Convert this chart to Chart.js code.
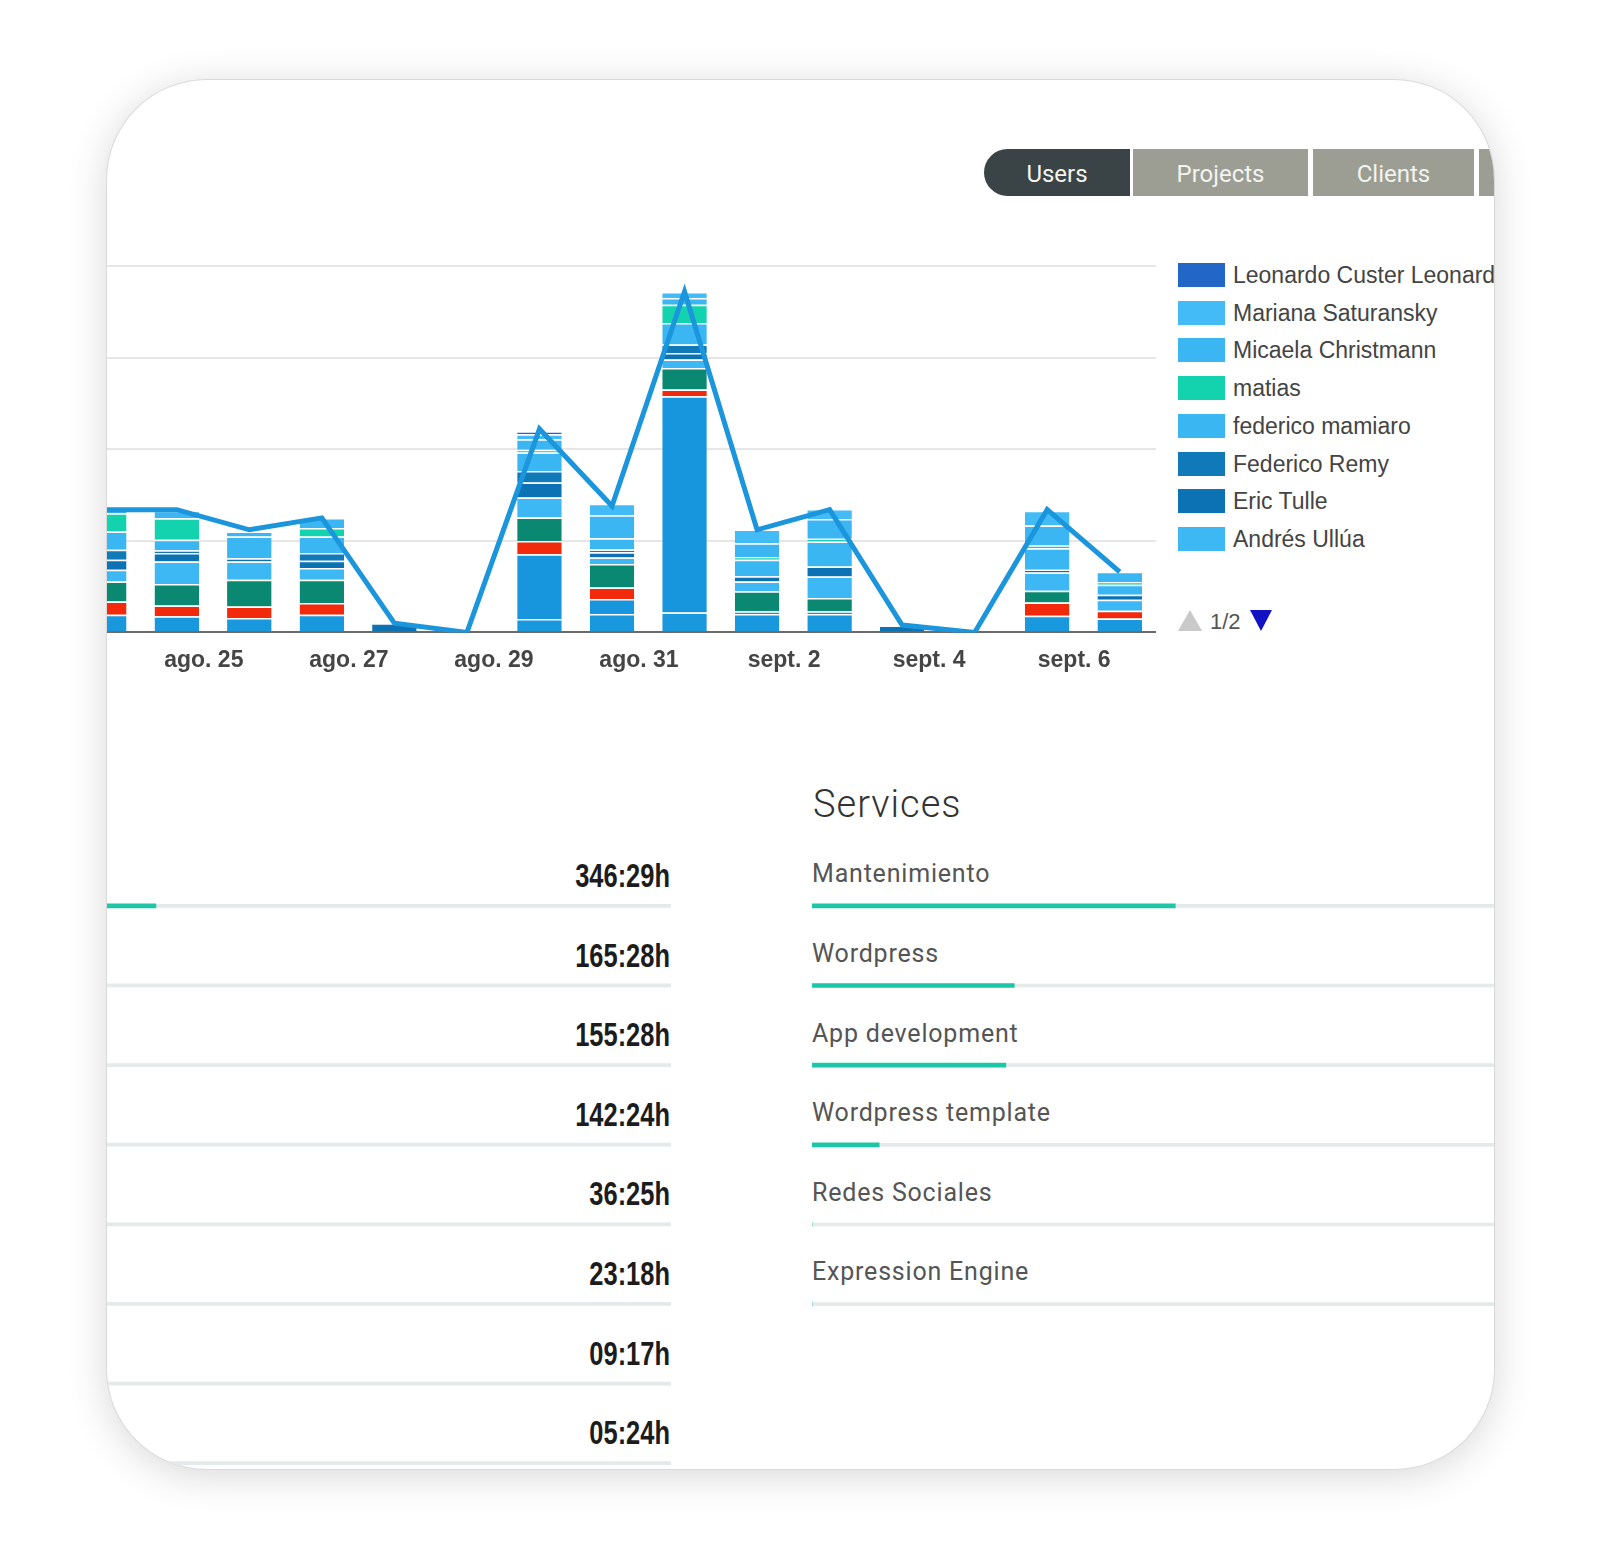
<!DOCTYPE html>
<html><head><meta charset="utf-8">
<script src="https://cdn.jsdelivr.net/npm/chart.js@4.4.1/dist/chart.umd.min.js"></script>
<style>
html,body{margin:0;padding:0;background:#fff;}
body{width:1600px;height:1549px;position:relative;overflow:hidden;font-family:"Liberation Sans",Arial,sans-serif;}
#card{position:absolute;left:107px;top:80px;width:1387px;height:1389px;border-radius:100px;overflow:hidden;background:#fff;box-shadow:0 0 0 1px #dadada,0 6px 40px rgba(0,0,0,.16);}
.tab{position:absolute;top:69px;height:47px;line-height:51px;text-align:center;font-family:Roboto,sans-serif;font-size:24px;color:#f3f3ef;background:#9c9e93;}
canvas{position:absolute;}
.lg{position:absolute;left:1071px;height:24px;white-space:nowrap;}
.lg .bx{position:absolute;left:0;top:0;width:47px;height:24px;}
.lg .tx{position:absolute;left:55px;top:0;line-height:24px;font-size:23px;color:#444;}
.val{position:absolute;left:0;width:563px;text-align:right;font-family:"Liberation Sans",Arial,sans-serif;font-weight:bold;font-size:33.5px;line-height:33.5px;color:#1c1c1c;transform:scaleX(0.76);transform-origin:100% 50%;}
.svc{position:absolute;left:705px;font-family:Roboto,sans-serif;font-size:25px;line-height:25px;letter-spacing:0.8px;color:#555;white-space:nowrap;}
</style></head>
<body>
<div id="card">
  <div class="tab" style="left:877px;width:146px;background:#3a4447;border-radius:23.5px 0 0 23.5px;">Users</div>
  <div class="tab" style="left:1026px;width:175px;">Projects</div>
  <div class="tab" style="left:1206px;width:161px;">Clients</div>
  <div class="tab" style="left:1372px;width:150px;"></div>

  <canvas id="main" width="1088" height="422" style="left:-39px;top:178px;"></canvas>
  <div id="legend"></div>
  <div style="position:absolute;left:1071px;top:530px;width:0;height:0;border-left:12px solid transparent;border-right:12px solid transparent;border-bottom:21px solid #c9c9c9;"></div>
  <div style="position:absolute;left:1103px;top:529px;line-height:26px;font-size:22px;color:#555;">1/2</div>
  <div style="position:absolute;left:1143px;top:530px;width:0;height:0;border-left:11.5px solid transparent;border-right:11.5px solid transparent;border-top:21px solid #1212c4;"></div>

  <div style="position:absolute;left:706px;top:705px;font-family:Roboto,sans-serif;font-weight:300;font-size:38px;line-height:38px;letter-spacing:1px;color:#333;">Services</div>
  <div id="svcLabels"></div>
  <div id="hourLabels"></div>
  <canvas id="hoursBars" width="623" height="637" style="left:-59px;top:786.2px;"></canvas>
  <canvas id="svcBars" width="700" height="478" style="left:705px;top:786.2px;"></canvas>
</div>
<script>
// ---------- data ----------
const days = ['ago. 24','ago. 25','ago. 26','ago. 27','ago. 28','ago. 29','ago. 30','ago. 31','sept. 1','sept. 2','sept. 3','sept. 4','sept. 5','sept. 6','sept. 7'];

// hours per user per day (stack order: bottom -> top). First four users are on legend page 2.
const pageTwoUserA   = [1.93,1.75,1.56,1.93,0,0,1.45,2.00,2.18,2.00,2.00,0,0,1.82,1.53];
const pageTwoUserB   = [0,0,0,0,0,0,7.09,1.64,23.6,0.30,0.30,0,0,0,0];
const pageTwoUserC   = [1.45,1.20,1.27,1.27,0,0,1.45,1.27,0.73,0,0,0,0,1.45,0.84];
const pageTwoUserD   = [2.18,2.33,2.91,2.55,0,0,2.55,2.55,2.36,2.18,1.45,0,0,1.27,0];
const andresUllua    = [1.27,2.47,2.00,1.27,0,0,2.18,0.73,0.91,1.09,2.36,0,0,2.00,1.20];
const ericTulle      = [1.10,0.91,0.36,0.80,1.00,0,1.64,0.55,0.73,0.55,1.09,0.76,0,0.30,0.55];
const federicoRemy   = [1.08,0.30,0,0.84,0,0,1.27,0.30,0.91,0,0,0,0,0,0];
const federicoMamiaro= [2.00,1.15,2.36,1.82,0,0,2.00,1.25,2.36,1.82,2.73,0,0,2.36,1.09];
const matias         = [2.00,2.36,0,0.91,0,0,0.30,0,2.00,0.30,0.30,0,0,0.30,0.30];
const micaela        = [0.36,0.80,0.55,1.09,0,0,1.16,2.50,0.73,1.50,2.15,0,0,2.18,1.12];
const mariana        = [0,0,0,0,0,0,0.55,1.25,0.65,1.50,1.09,0,0,1.60,0];
const leonardo       = [0,0,0,0,0,0,0.30,0,0,0,0,0,0,0,0];

// total line (hours per day)
const dailyTotal = [13.4,13.4,11.2,12.5,1.0,0,22.2,13.8,37.2,11.2,13.4,0.8,0,13.4,6.6];

const yTicks = {min:0, max:40, step:10};

// lower panels
const hourTotals = [346.48,165.47,155.47,142.40,36.42,23.30,9.28,5.40];
const hourTexts  = ['346:29h','165:28h','155:28h','142:24h','36:25h','23:18h','09:17h','05:24h'];
const hourScaleMax = 2000;
const services   = ['Mantenimiento','Wordpress','App development','Wordpress template','Redes Sociales','Expression Engine'];
const servicePct = [51.9,28.9,27.7,9.6,0,0];

// ---------- main chart ----------
const series = [
  {label:'Usuario p2-1', data:pageTwoUserA, color:'#1a98de', page:2},
  {label:'Usuario p2-2', data:pageTwoUserB, color:'#1896dd', page:2},
  {label:'Usuario p2-3', data:pageTwoUserC, color:'#f2290b', page:2},
  {label:'Usuario p2-4', data:pageTwoUserD, color:'#0b8871', page:2},
  {label:'Andrés Ullúa', data:andresUllua, color:'#3db8f4', page:1},
  {label:'Eric Tulle', data:ericTulle, color:'#0d72b3', page:1},
  {label:'Federico Remy', data:federicoRemy, color:'#1079b8', page:1},
  {label:'federico mamiaro', data:federicoMamiaro, color:'#3ab6f3', page:1},
  {label:'matias', data:matias, color:'#13d2ae', page:1},
  {label:'Micaela Christmann', data:micaela, color:'#3cb6f3', page:1},
  {label:'Mariana Saturansky', data:mariana, color:'#42bbf6', page:1},
  {label:'Leonardo Custer Leonardo', data:leonardo, color:'#2266c8', page:1}
];

Chart.defaults.font.family = '"Liberation Sans", Arial, sans-serif';

const datasets = series.map(s => ({
  type:'bar', label:s.label, data:s.data, backgroundColor:s.color,
  borderColor:'#ffffff', borderWidth:{top:1.5,bottom:0,left:0,right:0},
  stack:'users', order:1, barPercentage:0.614, categoryPercentage:1
}));
datasets.push({
  type:'line', label:'Total', data:dailyTotal, borderColor:'#1b95dc', borderWidth:5,
  pointRadius:0, tension:0, fill:false, order:0, stack:'total'
});

new Chart(document.getElementById('main'), {
  data:{labels:days, datasets},
  options:{
    responsive:false, animation:false,
    layout:{padding:{top:8,bottom:0,left:0,right:0}},
    plugins:{legend:{display:false}, tooltip:{enabled:false}},
    scales:{
      x:{stacked:true, offset:true,
         grid:{display:false},
         border:{display:true,color:'#6a6a6a',width:2},
         ticks:{autoSkip:false,maxRotation:0,minRotation:0,padding:6,labelOffset:27,
                color:'#454545',font:{size:23,weight:'bold'},
                callback:(v,i)=> i%2===1 ? days[i] : ''}},
      y:{stacked:true, min:yTicks.min, max:yTicks.max,
         ticks:{display:false, stepSize:yTicks.step},
         grid:{drawTicks:false,color:'#e6e6e6',lineWidth:2},
         border:{display:false}}
    }
  }
});

// HTML legend (page 1 of 2), built from the series
const lg = document.getElementById('legend');
series.filter(s=>s.page===1).reverse().forEach((s,k)=>{
  const d=document.createElement('div'); d.className='lg'; d.style.top=(183+37.7*k)+'px';
  d.innerHTML='<div class="bx" style="background:'+s.color+'"></div><div class="tx">'+s.label+'</div>';
  lg.appendChild(d);
});

// ---------- lower panels ----------
const rowStep = 79.6;
const hl = document.getElementById('hourLabels');
hourTexts.forEach((t,k)=>{
  const d=document.createElement('div'); d.className='val'; d.style.top=(778.9+rowStep*k)+'px'; d.textContent=t; hl.appendChild(d);
});
const sl = document.getElementById('svcLabels');
services.forEach((t,k)=>{
  const d=document.createElement('div'); d.className='svc'; d.style.top=(781.3+rowStep*k)+'px'; d.textContent=t; sl.appendChild(d);
});

function progressChart(id, labels, values, max){
  new Chart(document.getElementById(id), {
    type:'bar',
    data:{labels, datasets:[
      {data:values, backgroundColor:'#1dc6a6', barThickness:4, stack:'p'},
      {data:values.map(v=>max-v), backgroundColor:'#e4e9e9', barThickness:3, stack:'p'}
    ]},
    options:{indexAxis:'y', responsive:false, animation:false,
      layout:{padding:0},
      plugins:{legend:{display:false},tooltip:{enabled:false}},
      scales:{x:{display:false,stacked:true,min:0,max},
              y:{display:false,stacked:true}}}
  });
}
progressChart('hoursBars', hourTexts, hourTotals, hourScaleMax);
progressChart('svcBars', services, servicePct, 100);
</script>
</body></html>
